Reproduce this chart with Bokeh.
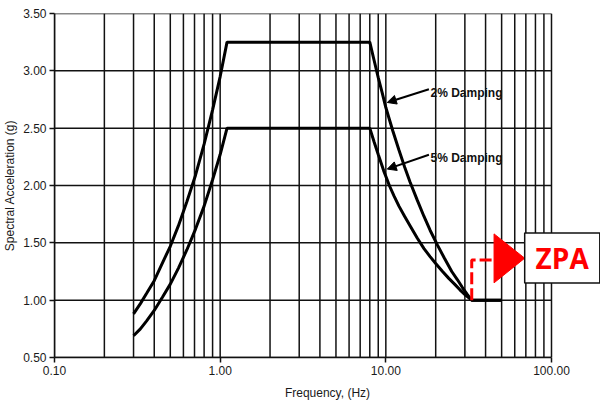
from bokeh.plotting import figure
from bokeh.models import (Range1d, FixedTicker, NumeralTickFormatter, Label,
                          Arrow, NormalHead)
from bokeh.embed import file_html
from bokeh.resources import INLINE

# ---- data ----
x_major_ticks = [0.1, 1, 10, 100]
x_minor_ticks = [0.2, 0.3, 0.4, 0.5, 0.6, 0.7, 0.8, 0.9,
                 2, 3, 4, 5, 6, 7, 8, 9,
                 20, 30, 40, 50, 60, 70, 80, 90]
y_ticks = [0.5, 1.0, 1.5, 2.0, 2.5, 3.0, 3.5]

freq_2pct = [0.3, 0.33, 0.36, 0.4, 0.45, 0.5, 0.56, 0.63, 0.71, 0.8, 0.9, 1.0, 1.1,
             8.0, 8.5, 9.0, 9.5, 10.0, 11.0, 12.0, 13.0, 14.0, 15.5, 17.0, 18.5,
             20.5, 22.5, 25.0, 27.0, 29.0, 31.0, 33.0, 50.0]
acc_2pct = [0.88, 0.97, 1.06, 1.17, 1.33, 1.47, 1.65, 1.86, 2.09, 2.36, 2.66, 2.95, 3.25,
            3.25, 3.09, 2.94, 2.81, 2.68, 2.48, 2.31, 2.16, 2.03, 1.87, 1.73, 1.61,
            1.48, 1.37, 1.25, 1.18, 1.11, 1.05, 1.00, 1.00]

freq_5pct = [0.3, 0.33, 0.36, 0.4, 0.45, 0.5, 0.56, 0.63, 0.71, 0.8, 0.9, 1.0, 1.1,
             8.0, 8.5, 9.0, 9.7, 10.5, 11.2, 12.0, 13.0, 14.0, 15.5, 17.0, 18.5,
             20.0, 22.0, 24.0, 26.0, 28.0, 30.5, 33.0, 50.0]
acc_5pct = [0.69, 0.75, 0.82, 0.91, 1.03, 1.14, 1.28, 1.44, 1.62, 1.82, 2.05, 2.27, 2.50,
            2.50, 2.38, 2.27, 2.13, 2.00, 1.91, 1.82, 1.73, 1.65, 1.54, 1.45, 1.38,
            1.32, 1.25, 1.19, 1.14, 1.09, 1.04, 1.00, 1.00]

zpa_freq = 33.0
zpa_acc = 1.0

FONT = "Liberation Sans"
X_MIN, X_MAX = 0.1, 100
Y_MIN, Y_MAX = 0.5, 3.5

# frame runs to the right edge of the page so the ZPA box can sit past 100 Hz
p = figure(width=600, height=409, x_axis_type="log",
           x_range=Range1d(X_MIN, 197.6), y_range=Range1d(Y_MIN, Y_MAX),
           output_backend="svg", toolbar_location=None,
           min_border_left=54, min_border_right=0,
           min_border_top=13, min_border_bottom=52)
p.background_fill_color = "white"
p.border_fill_color = "white"
p.outline_line_color = None
p.xgrid.visible = False
p.ygrid.visible = False

# axes
p.xaxis.ticker = FixedTicker(ticks=x_major_ticks, minor_ticks=x_minor_ticks)
p.yaxis.ticker = FixedTicker(ticks=y_ticks)
p.xaxis.bounds = (X_MIN, X_MAX)
p.xaxis.formatter = NumeralTickFormatter(format="0.00")
p.yaxis.formatter = NumeralTickFormatter(format="0.00")
for ax in (p.xaxis, p.yaxis):
    ax.axis_line_color = "#111111"
    ax.axis_line_width = 1.5
    ax.major_tick_line_color = "#111111"
    ax.major_tick_line_width = 1.5
    ax.major_tick_out = 5
    ax.major_tick_in = 0
    ax.minor_tick_line_color = None
    ax.major_label_text_font = FONT
    ax.major_label_text_font_size = "12px"
    ax.major_label_text_color = "#1a1a1a"
    ax.major_label_standoff = 3
    ax.axis_label_text_font = FONT
    ax.axis_label_text_font_size = "12px"
    ax.axis_label_text_font_style = "normal"
    ax.axis_label_text_color = "#1a1a1a"
p.xaxis.axis_label = "Frequency, (Hz)"
p.yaxis.axis_label = "Spectral Acceleration (g)"
p.xaxis.axis_label_standoff = 8
p.yaxis.axis_label_standoff = 3

# grid lines limited to 0.1-100 Hz, drawn from the tick lists
all_x = x_major_ticks + x_minor_ticks
p.segment(x0=all_x, y0=Y_MIN, x1=all_x, y1=Y_MAX, line_color="#111111", line_width=1.5)
p.segment(x0=X_MIN, y0=y_ticks, x1=X_MAX, y1=y_ticks, line_color="#111111", line_width=1.5)

# spectra
p.line(freq_2pct, acc_2pct, line_color="black", line_width=3)
p.line(freq_5pct, acc_5pct, line_color="black", line_width=3)

# damping labels with arrows
for txt, tx, ty, x0, y0, x1, y1 in [("2% Damping", 18.6, 2.811, 18.2, 2.84, 10.2, 2.724),
                                     ("5% Damping", 18.6, 2.239, 18.2, 2.268, 10.2, 2.143)]:
    p.add_layout(Arrow(end=NormalHead(size=9, fill_color="black", line_color="black"),
                       x_start=x0, y_start=y0, x_end=x1, y_end=y1,
                       line_color="black", line_width=2))
    p.add_layout(Label(x=tx, y=ty, text=txt, text_font=FONT, text_font_style="bold",
                       text_font_size="12px", text_color="#111111",
                       text_align="left", text_baseline="alphabetic"))

# ZPA marker
p.line([zpa_freq, zpa_freq, 45.0], [zpa_acc, 1.35, 1.35], line_color="red",
       line_width=3, line_dash="12 4")
p.patch([45.0, 45.0, 68.9], [1.578, 1.151, 1.366], fill_color="red", line_color="red")
p.quad(left=[68.9], right=[195.7], bottom=[1.149], top=[1.585],
       fill_color="white", line_color="#111111", line_width=1.5)
p.add_layout(Label(x=116, y=1.367, text="ZPA", text_font="Open Sans",
                   text_font_style="bold", text_font_size="28px", text_color="red",
                   text_align="center", text_baseline="middle"))

open("out.html", "w").write(file_html(p, INLINE))
